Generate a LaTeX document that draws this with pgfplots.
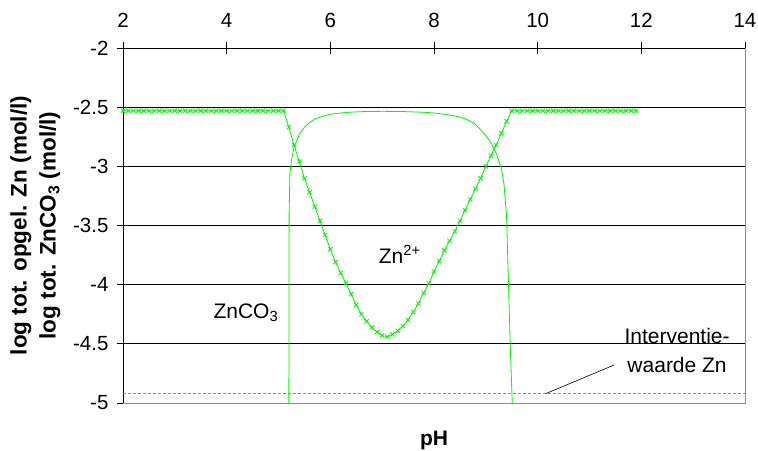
\documentclass[border=0pt]{standalone}
\usepackage{pgfplots}
\pgfplotsset{compat=1.18}
\usepackage{fontspec}
\setmainfont{Liberation Sans}
\definecolor{zngreen}{RGB}{0,245,0}
\definecolor{lightline}{RGB}{140,140,140}
\pgfplotstableread{
x y
2.0 -2.53
2.1 -2.53
2.2 -2.53
2.3 -2.53
2.4 -2.53
2.5 -2.53
2.6 -2.53
2.7 -2.53
2.8 -2.53
2.9 -2.53
3.0 -2.53
3.1 -2.53
3.2 -2.53
3.3 -2.53
3.4 -2.53
3.5 -2.53
3.6 -2.53
3.7 -2.53
3.8 -2.53
3.9 -2.53
4.0 -2.53
4.1 -2.53
4.2 -2.53
4.3 -2.53
4.4 -2.53
4.5 -2.53
4.6 -2.53
4.7 -2.53
4.8 -2.53
4.9 -2.53
5.0 -2.53
5.1 -2.53
5.2 -2.67
5.3 -2.82
5.4 -2.96
5.5 -3.10
5.6 -3.22
5.7 -3.34
5.8 -3.46
5.9 -3.58
6.0 -3.70
6.1 -3.81
6.2 -3.90
6.3 -3.99
6.4 -4.08
6.5 -4.17
6.6 -4.25
6.7 -4.31
6.8 -4.36
6.9 -4.40
7.0 -4.43
7.1 -4.44
7.2 -4.42
7.3 -4.39
7.4 -4.35
7.5 -4.30
7.6 -4.23
7.7 -4.16
7.8 -4.07
7.9 -3.99
8.0 -3.89
8.1 -3.80
8.2 -3.71
8.3 -3.63
8.4 -3.55
8.5 -3.46
8.6 -3.37
8.7 -3.28
8.8 -3.19
8.9 -3.10
9.0 -3.00
9.1 -2.91
9.2 -2.82
9.3 -2.72
9.4 -2.62
9.5 -2.53
9.6 -2.53
9.7 -2.53
9.8 -2.53
9.9 -2.53
10.0 -2.53
10.1 -2.53
10.2 -2.53
10.3 -2.53
10.4 -2.53
10.5 -2.53
10.6 -2.53
10.7 -2.53
10.8 -2.53
10.9 -2.53
11.0 -2.53
11.1 -2.53
11.2 -2.53
11.3 -2.53
11.4 -2.53
11.5 -2.53
11.6 -2.53
11.7 -2.53
11.8 -2.53
11.9 -2.53
}\zntable
\pgfplotstableread{
x y
5.20 -5.00
5.205 -3.40
5.22 -3.06
5.25 -2.95
5.30 -2.84
5.40 -2.73
5.50 -2.67
5.60 -2.63
5.70 -2.60
5.80 -2.585
5.90 -2.57
6.00 -2.56
6.20 -2.549
6.40 -2.542
6.60 -2.538
7.00 -2.535
7.40 -2.537
7.80 -2.543
8.00 -2.549
8.20 -2.56
8.40 -2.574
8.50 -2.584
8.60 -2.598
8.70 -2.618
8.80 -2.645
8.90 -2.69
9.00 -2.74
9.10 -2.80
9.20 -2.89
9.30 -3.02
9.35 -3.15
9.40 -3.42
9.47 -4.50
9.51 -5.00
}\znco
\begin{document}
\begin{tikzpicture}
\path[use as bounding box] (-123pt,-47pt) rectangle (635pt,403pt);
\begin{axis}[
  at={(0pt,0pt)}, anchor=south west,
  width=622pt, height=355pt, scale only axis,
  xmin=2, xmax=14, ymin=-5, ymax=-2,
  axis x line*=top, axis y line*=left,
  axis line style={black, line width=0.8pt, -},
  xtick={2,4,6,8,10,12,14}, xticklabels={2,4,6,8,10,12,14},
  ytick={-5,-4.5,-4,-3.5,-3,-2.5,-2},
  yticklabels={-5,-4.5,-4,-3.5,-3,-2.5,-2},
  tick align=center, major tick length=12pt,
  tick style={black, line width=0.8pt},
  ymajorgrids, grid style={black, line width=0.8pt},
  ticklabel style={font=\fontsize{20.5}{24}\selectfont},
  xticklabel style={yshift=11pt},
  yticklabel style={xshift=-5pt},
  ylabel={log tot. opgel. Zn (mol/l)\\[3pt]log tot. ZnCO\textsubscript{3} (mol/l)},
  ylabel style={align=center, font=\bfseries\fontsize{22.5}{26}\selectfont, yshift=6pt},
  clip mode=individual,
]
\addplot[lightline, dashed, dash pattern=on 3pt off 2pt, line width=0.6pt] coordinates {(2,-4.92) (14,-4.92)};
\addplot[zngreen, line width=0.8pt, mark=x, mark size=3pt, mark options={line width=0.8pt}] table[x=x,y=y] {\zntable};
\addplot[zngreen, line width=0.8pt, no marks] table[x=x,y=y] {\znco};
\draw[lightline, line width=0.8pt] (axis cs:2,-5) -- (axis cs:14,-5) -- (axis cs:14,-2);
\draw[black, line width=0.6pt] (axis cs:10.16,-4.92) -- (axis cs:11.47,-4.68);
\node[anchor=base, font=\fontsize{21}{25}\selectfont] at (axis cs:7.34,-3.817) {Zn\textsuperscript{2+}};
\node[anchor=base, font=\fontsize{21}{25}\selectfont] at (axis cs:4.37,-4.282) {ZnCO\textsubscript{3}};
\node[anchor=base, font=\fontsize{21}{25}\selectfont] at (axis cs:12.69,-4.494) {Interventie-};
\node[anchor=base, font=\fontsize{21}{25}\selectfont] at (axis cs:12.69,-4.739) {waarde Zn};
\node[anchor=base, font=\bfseries\fontsize{21}{25}\selectfont] at (axis cs:8,-5.356) {pH};
\end{axis}
\end{tikzpicture}
\end{document}
